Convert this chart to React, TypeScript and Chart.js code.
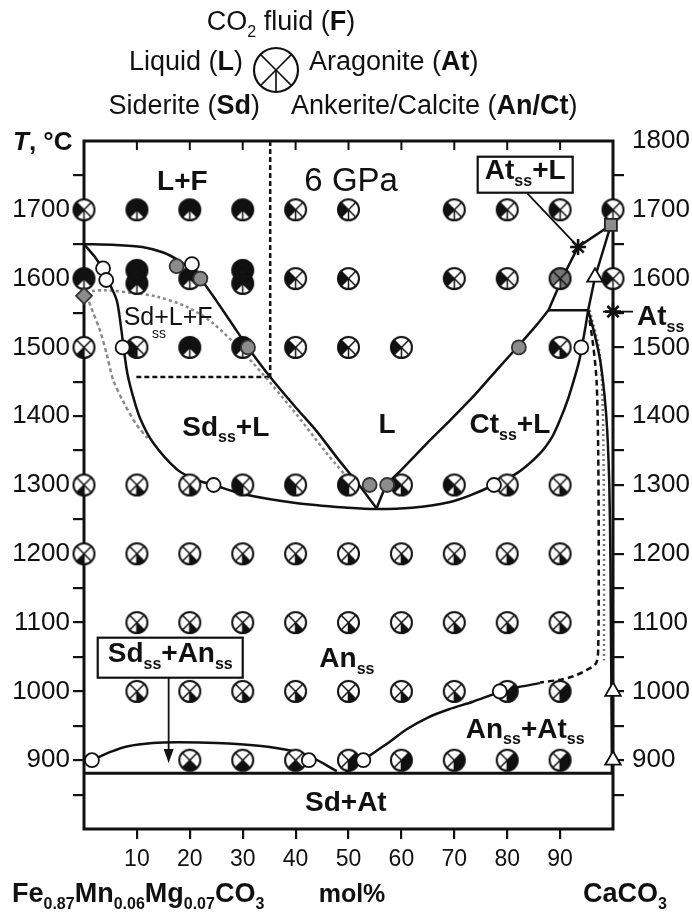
import { useEffect, useRef } from 'react';
import { Chart, registerables } from 'chart.js';
Chart.register(...registerables);

const FONT = '"Liberation Sans", Arial, Helvetica, sans-serif';
const INK = '#111';

type P = [number, number];

// ---------- axes ----------
const xTickValues = [0, 10, 20, 30, 40, 50, 60, 70, 80, 90, 100];
const xTickLabels = ['', '10', '20', '30', '40', '50', '60', '70', '80', '90', ''];
const tTickValues = [800, 850, 900, 950, 1000, 1050, 1100, 1150, 1200, 1250, 1300, 1350, 1400, 1450, 1500, 1550, 1600, 1650, 1700, 1750, 1800];
const tLabelsLeft = [900, 1000, 1100, 1200, 1300, 1400, 1500, 1600, 1700];
const tLabelsRight = [900, 1000, 1100, 1200, 1300, 1400, 1500, 1600, 1700, 1800];

// ---------- experiment points (x = mol% CaCO3, T in °C) ----------
const ptsLF: P[] = [[10, 1700], [20, 1700], [30, 1700], [0, 1600], [10, 1612], [10, 1593], [30, 1612], [30, 1593], [20, 1600], [20, 1500], [30, 1500]];
const ptsL: P[] = [[0, 1700], [40, 1700], [50, 1700], [70, 1700], [80, 1700], [90, 1700], [100, 1700], [40, 1600], [50, 1600], [70, 1600], [80, 1600], [100, 1600], [40, 1500], [50, 1500], [60, 1500]];
const ptsSdL: P[] = [[10, 1500], [30, 1300], [40, 1300], [50, 1300]];
const ptsCtL: P[] = [[90, 1500], [60, 1300], [70, 1300]];
const ptsCtLGray: P[] = [[90, 1600]];
const ptsSd: P[] = [[0, 1500], [0, 1300], [0, 1200]];
const ptsAn: P[] = [
  [10, 1300], [20, 1300], [80, 1300], [90, 1300],
  [10, 1200], [20, 1200], [30, 1200], [40, 1200], [50, 1200], [60, 1200], [70, 1200], [80, 1200], [90, 1200],
  [10, 1100], [20, 1100], [30, 1100], [40, 1100], [50, 1100], [60, 1100], [70, 1100], [80, 1100], [90, 1100],
  [10, 1000], [20, 1000], [30, 1000], [40, 1000], [50, 1000], [60, 1000], [70, 1000],
];
const ptsSdAn: P[] = [[20, 900], [30, 900], [40, 900]];
const ptsAnAt: P[] = [[80, 1000], [90, 1000], [50, 900], [60, 900], [70, 900], [80, 900], [90, 900]];
const ptsOpen: P[] = [[3.6, 1615], [4.2, 1598], [20.4, 1621], [7.3, 1500], [24.5, 1300], [77.5, 1300], [94, 1500], [78.6, 1000], [1.5, 900], [42.5, 900], [52.8, 900]];
const ptsGray: P[] = [[17.5, 1618], [22, 1600], [31, 1500], [82.2, 1500], [54, 1300], [57.3, 1300]];
const ptsDiamond: P[] = [[0, 1575]];
const ptsSquare: P[] = [[99.6, 1678]];
const ptsTriangle: P[] = [[96.6, 1602], [100, 1000], [100, 900]];
const ptsStar: P[] = [[93.4, 1646], [100, 1552]];

// ---------- phase boundaries ----------
const liquidusSd: P[] = [[0, 1650], [6, 1649], [11, 1646], [15, 1638], [18, 1626], [20.5, 1612], [22.5, 1595], [25, 1568], [28, 1534], [31, 1500], [35.2, 1457], [40, 1413], [44, 1378], [48, 1338], [52, 1300], [55.3, 1266]];
const solidus: P[] = [[0, 1650], [2, 1632], [3.7, 1612], [5, 1590], [6.2, 1568], [6.9, 1535], [7.4, 1505], [8.2, 1462], [9.3, 1428], [10.6, 1397], [13, 1362], [17.5, 1323], [21, 1308], [24.5, 1300], [30, 1287], [40, 1274], [50, 1267], [55.3, 1265], [62, 1267], [69, 1275], [73, 1285], [77.5, 1300], [82, 1318], [86.2, 1346], [88.5, 1370], [90, 1395], [91.5, 1425], [92.7, 1455], [93.6, 1480], [94.1, 1500], [94.8, 1530], [95.3, 1554]];
const liquidusCtLow: P[] = [[55.3, 1266], [57.2, 1300], [60, 1322], [65, 1362], [69.2, 1394], [74, 1432], [78, 1467], [82.2, 1503], [85.5, 1532], [87.8, 1554]];
const liquidusCtHigh: P[] = [[87.8, 1554], [90.5, 1602], [93.4, 1646], [99.6, 1678]];
const peritecticTie: P[] = [[87.8, 1554], [95.3, 1554]];
const atSolvusHigh: P[] = [[99.6, 1678], [96.6, 1602], [95.3, 1554]];
const atSolvusLow: P[] = [[95.3, 1554], [96.5, 1520], [97.6, 1480], [98.4, 1430], [98.9, 1380], [99.3, 1300], [99.5, 1200], [99.6, 1100], [99.7, 1000], [99.8, 881]];
const anAtDashed: P[] = [[95.3, 1554], [96.3, 1500], [96.9, 1450], [97.2, 1350], [97.3, 1200], [97.2, 1062], [96.8, 1041], [95, 1031], [92.5, 1022], [90, 1017], [86.2, 1013]];
const anAtDotted: P[] = [[95.6, 1554], [97.3, 1500], [97.9, 1450], [98.2, 1350], [98.3, 1200], [98.3, 1045]];
const anAtSolvus: P[] = [[49.5, 882], [52.8, 900], [55, 912], [58, 928], [61, 945], [65, 962], [69, 974], [73.5, 985], [78.6, 999], [82, 1006], [86.2, 1012]];
const sdAnSolvus: P[] = [[1.5, 900], [5, 912], [8.1, 920], [13, 925], [18, 926], [25, 925], [33, 921], [39, 914], [43.3, 903], [47.8, 884]];
const sdAtLine: P[] = [[0, 881], [100, 881]];
const grayLiquidus: P[] = [[1.5, 1582], [4, 1583], [9.4, 1579], [13.7, 1574], [19.4, 1559], [24.4, 1535], [31.4, 1482], [39.5, 1409], [46, 1345], [51, 1300]];
const graySolidus: P[] = [[0.5, 1576], [1.5, 1555], [3, 1525], [4.3, 1490], [5.5, 1453], [7.5, 1420], [9.9, 1388], [12, 1368]];
const fieldBoxV: P[] = [[35.2, 1800], [35.2, 1457]];
const fieldBoxH: P[] = [[9.9, 1457], [35.2, 1457]];
const pointerAtL: P[] = [[83.8, 1724], [93.4, 1646]];

// ---------- text ----------
const regionLabels = [
  { text: '*L+F*', x: 18.6, t: 1740, size: 28 },
  { text: '6 GPa', x: 50.5, t: 1740, size: 33 },
  { text: 'Sd+L+F', x: 15.9, t: 1543, size: 25 },
  { text: 'ss', x: 14.2, t: 1519, size: 14 },
  { text: '*Sd_{ss}+L*', x: 26.8, t: 1383, size: 28 },
  { text: '*L*', x: 57.3, t: 1387, size: 28 },
  { text: '*Ct_{ss}+L*', x: 80.5, t: 1387, size: 28 },
  { text: '*An_{ss}*', x: 49.7, t: 1046, size: 28 },
  { text: '*An_{ss}+At_{ss}*', x: 83.4, t: 944, size: 28 },
  { text: '*Sd+At*', x: 49.5, t: 838, size: 28 },
];
const boxLabels = [
  { text: '*Sd_{ss}+An_{ss}*', x: 16.3, t: 1049, w: 145, h: 40, size: 28 },
  { text: '*At_{ss}+L*', x: 83.4, t: 1751, w: 95, h: 36, size: 28 },
];
const sdAnArrow = { x: 16, from: 1029, to: 896 };

type Seg = { t: string; b: boolean; i: boolean; sub: boolean };

function parseRich(s: string): Seg[] {
  const segs: Seg[] = [];
  let bold = false, ital = false, buf = '', i = 0;
  const push = (sub = false) => { if (buf) segs.push({ t: buf, b: bold, i: ital, sub }); buf = ''; };
  while (i < s.length) {
    const c = s[i];
    if (c === '*') { push(); bold = !bold; i++; }
    else if (c === '^') { push(); ital = !ital; i++; }
    else if (c === '_' && s[i + 1] === '{') {
      push();
      const j = s.indexOf('}', i);
      buf = s.slice(i + 2, j);
      push(true);
      i = j + 1;
    } else { buf += c; i++; }
  }
  push();
  return segs;
}

function drawRich(ctx: CanvasRenderingContext2D, text: string, x: number, y: number, size: number, align: 'left' | 'center' | 'right') {
  const segs = parseRich(text);
  const subSize = Math.round(size * 0.58);
  const fontFor = (s: Seg) => `${s.i ? 'italic ' : ''}${s.b ? 'bold ' : ''}${s.sub ? subSize : size}px ${FONT}`;
  let w = 0;
  for (const s of segs) { ctx.font = fontFor(s); w += ctx.measureText(s.t).width; }
  let cx = align === 'left' ? x : align === 'right' ? x - w : x - w / 2;
  ctx.textAlign = 'left';
  ctx.textBaseline = 'middle';
  for (const s of segs) {
    ctx.font = fontFor(s);
    ctx.fillText(s.t, cx, s.sub ? y + size * 0.36 : y);
    cx += ctx.measureText(s.t).width;
  }
}

const SECTORS: Record<string, [number, number]> = {
  F: [-135, -45], A: [-45, 45], C: [45, 90], S: [90, 135], L: [135, 225],
};
const DIVIDERS = [-135, -45, 45, 135, 90];
const rad = (d: number) => (d * Math.PI) / 180;

function drawPie(ctx: CanvasRenderingContext2D, cx: number, cy: number, r: number, pattern: string, fill: string, lw: number) {
  ctx.save();
  ctx.beginPath();
  ctx.arc(cx, cy, r, 0, Math.PI * 2);
  ctx.fillStyle = '#fff';
  ctx.fill();
  for (const k of pattern) {
    const s = SECTORS[k];
    if (!s) continue;
    ctx.beginPath();
    ctx.moveTo(cx, cy);
    ctx.arc(cx, cy, r, rad(s[0]), rad(s[1]));
    ctx.closePath();
    ctx.fillStyle = fill;
    ctx.fill();
  }
  ctx.strokeStyle = INK;
  ctx.lineWidth = lw * 0.75;
  for (const d of DIVIDERS) {
    ctx.beginPath();
    ctx.moveTo(cx, cy);
    ctx.lineTo(cx + r * Math.cos(rad(d)), cy + r * Math.sin(rad(d)));
    ctx.stroke();
  }
  ctx.beginPath();
  ctx.arc(cx, cy, r, 0, Math.PI * 2);
  ctx.lineWidth = lw;
  ctx.stroke();
  ctx.restore();
}

function pieCanvas(pattern: string, fill = INK, r = 10.5) {
  const size = Math.ceil(2 * r + 4);
  const c = document.createElement('canvas');
  c.width = size; c.height = size;
  const ctx = c.getContext('2d')!;
  drawPie(ctx, size / 2, size / 2, r, pattern, fill, 2);
  return c;
}

const toXY = (pts: P[]) => pts.map(([x, y]) => ({ x, y }));

function lineDs(pts: P[], o: { color?: string; width?: number; dash?: number[]; tension?: number } = {}) {
  return {
    type: 'scatter' as const,
    data: toXY(pts),
    showLine: true,
    borderColor: o.color ?? INK,
    borderWidth: o.width ?? 2.5,
    borderDash: o.dash ?? [],
    tension: o.tension ?? 0,
    pointRadius: 0,
    pointHoverRadius: 0,
    fill: false,
    order: 10,
    xAxisID: 'x',
    yAxisID: 'y',
  };
}

function pieDs(pts: P[], pattern: string, fill = INK) {
  return {
    data: toXY(pts),
    pointStyle: pieCanvas(pattern, fill),
    pointRadius: 11,
    order: 5,
    clip: false,
    xAxisID: 'x',
    yAxisID: 'y',
  };
}

function symDs(pts: P[], style: string, r: number, bg: string, border = INK, bw = 1.8) {
  return {
    data: toXY(pts),
    pointStyle: style,
    pointRadius: r,
    backgroundColor: bg,
    borderColor: border,
    borderWidth: bw,
    order: 1,
    clip: false,
    xAxisID: 'x',
    yAxisID: 'y',
  };
}

const overlay = {
  id: 'overlay',
  beforeDatasetsDraw(chart: any) {
    const { ctx, chartArea: a, scales } = chart;
    ctx.save();
    ctx.strokeStyle = INK;
    ctx.lineWidth = 3;
    ctx.strokeRect(a.left, a.top, a.right - a.left, a.bottom - a.top);
    ctx.lineWidth = 2;
    for (const v of xTickValues) {
      if (v === 0 || v === 100) continue;
      const px = scales.x.getPixelForValue(v);
      ctx.beginPath();
      ctx.moveTo(px, a.top);
      ctx.lineTo(px, a.top + 9);
      ctx.stroke();
    }
    ctx.restore();
  },
  afterDraw(chart: any) {
    const { ctx, scales } = chart;
    const X = (v: number) => scales.x.getPixelForValue(v);
    const Y = (v: number) => scales.y.getPixelForValue(v);
    ctx.save();
    ctx.fillStyle = INK;
    ctx.strokeStyle = INK;

    for (const l of regionLabels) drawRich(ctx, l.text, X(l.x), Y(l.t), l.size, 'center');

    // pointer from At_ss+L box to star
    ctx.lineWidth = 1.8;
    ctx.beginPath();
    ctx.moveTo(X(pointerAtL[0][0]), Y(pointerAtL[0][1]));
    ctx.lineTo(X(pointerAtL[1][0]), Y(pointerAtL[1][1]));
    ctx.stroke();

    // arrow from Sd_ss+An_ss box
    const ax = X(sdAnArrow.x), ay0 = Y(sdAnArrow.from), ay1 = Y(sdAnArrow.to);
    ctx.beginPath();
    ctx.moveTo(ax, ay0);
    ctx.lineTo(ax, ay1 - 8);
    ctx.stroke();
    ctx.beginPath();
    ctx.moveTo(ax, ay1);
    ctx.lineTo(ax - 5, ay1 - 14);
    ctx.lineTo(ax + 5, ay1 - 14);
    ctx.closePath();
    ctx.fill();

    for (const b of boxLabels) {
      const cx = X(b.x), cy = Y(b.t);
      ctx.fillStyle = '#fff';
      ctx.fillRect(cx - b.w / 2, cy - b.h / 2, b.w, b.h);
      ctx.lineWidth = 2.2;
      ctx.strokeRect(cx - b.w / 2, cy - b.h / 2, b.w, b.h);
      ctx.fillStyle = INK;
      drawRich(ctx, b.text, cx, cy - 3, b.size, 'center');
    }

    // At_ss pointer on right axis
    const sy = Y(ptsStar[1][1]);
    ctx.lineWidth = 1.8;
    ctx.beginPath();
    ctx.moveTo(X(100) - 10, sy);
    ctx.lineTo(X(100) + 20, sy);
    ctx.stroke();
    drawRich(ctx, '*At_{ss}*', 637, sy + 6, 28, 'left');

    // axis titles
    drawRich(ctx, '*^T^, °C*', 13, 143, 26, 'left');
    drawRich(ctx, '*Fe_{0.87}Mn_{0.06}Mg_{0.07}CO_{3}*', 12, 895, 27, 'left');
    drawRich(ctx, '*mol%*', 352, 895, 25, 'center');
    drawRich(ctx, '*CaCO_{3}*', 583, 895, 27, 'left');

    // legend
    drawRich(ctx, 'CO_{2} fluid (*F*)', 281, 23, 27, 'center');
    drawRich(ctx, 'Liquid (*L*)', 243, 63, 27, 'right');
    drawRich(ctx, 'Aragonite (*At*)', 309, 63, 27, 'left');
    drawRich(ctx, 'Siderite (*Sd*)', 260, 107, 27, 'right');
    drawRich(ctx, 'Ankerite/Calcite (*An/Ct*)', 291, 107, 27, 'left');
    drawPie(ctx, 276, 70, 22, '', INK, 2.2);
    ctx.restore();
  },
};

export default function App() {
  const ref = useRef<HTMLCanvasElement>(null);
  useEffect(() => {
    document.body.style.margin = '0';
    const canvas = ref.current!;
    const tickColor = (hidden: number[]) => (c: any) => (c.tick && hidden.includes(c.tick.value) ? 'rgba(0,0,0,0)' : INK);
    const chart = new Chart(canvas, {
      type: 'scatter',
      data: {
        datasets: [
          symDs(ptsStar, 'star', 8, INK, INK, 2.6),
          symDs(ptsOpen, 'circle', 7, '#fff'),
          symDs(ptsGray, 'circle', 7, '#8c8c8c', '#333'),
          symDs(ptsDiamond, 'rectRot', 8, '#8c8c8c', '#333'),
          symDs(ptsSquare, 'rect', 8.5, '#8c8c8c', '#222'),
          symDs(ptsTriangle, 'triangle', 9, '#fff'),
          pieDs(ptsLF, 'FLA'),
          pieDs(ptsL, 'L'),
          pieDs(ptsSdL, 'LS'),
          pieDs(ptsCtL, 'LC'),
          pieDs(ptsCtLGray, 'FLAC', '#777'),
          pieDs(ptsSd, 'S'),
          pieDs(ptsAn, 'C'),
          pieDs(ptsSdAn, 'SC'),
          pieDs(ptsAnAt, 'AC'),
          lineDs(liquidusSd, { tension: 0.25 }),
          lineDs(solidus, { tension: 0.3 }),
          lineDs(liquidusCtLow, { tension: 0.2 }),
          lineDs(liquidusCtHigh),
          lineDs(peritecticTie),
          lineDs(atSolvusHigh),
          lineDs(atSolvusLow, { tension: 0.3 }),
          lineDs(anAtDashed, { dash: [6, 4], tension: 0.3 }),
          lineDs(anAtDotted, { dash: [2, 3], color: '#777', tension: 0.3 }),
          lineDs(anAtSolvus, { tension: 0.3 }),
          lineDs(sdAnSolvus, { tension: 0.35 }),
          lineDs(sdAtLine, { width: 3 }),
          lineDs(grayLiquidus, { dash: [3, 3], color: '#8a8a8a', tension: 0.3 }),
          lineDs(graySolidus, { dash: [4, 3], color: '#8a8a8a', tension: 0.3 }),
          lineDs(fieldBoxV, { dash: [5, 3] }),
          lineDs(fieldBoxH, { dash: [5, 3] }),
        ] as any,
      },
      options: {
        responsive: false,
        animation: false,
        devicePixelRatio: 1,
        events: [],
        layout: { padding: { top: 141, left: 0, right: 0, bottom: 0 } },
        plugins: { legend: { display: false }, tooltip: { enabled: false } },
        scales: {
          x: {
            type: 'linear', position: 'bottom', min: 0, max: 100,
            afterBuildTicks: (s: any) => { s.ticks = xTickValues.map((v) => ({ value: v })); },
            afterFit: (s: any) => { s.height = 89; },
            ticks: {
              autoSkip: false, maxRotation: 0, padding: 7, color: INK,
              font: { family: FONT, size: 23 },
              callback: (v: any) => xTickLabels[xTickValues.indexOf(Number(v))] ?? '',
            },
            grid: { drawOnChartArea: false, tickLength: 10, lineWidth: 2.2, color: tickColor([0, 100]) },
            border: { display: false },
          },
          y: {
            type: 'linear', position: 'left', min: 800, max: 1800,
            afterBuildTicks: (s: any) => { s.ticks = tTickValues.map((v) => ({ value: v })); },
            afterFit: (s: any) => { s.width = 84; },
            ticks: {
              autoSkip: false, padding: 3, color: INK,
              font: { family: FONT, size: 26 },
              callback: (v: any) => (tLabelsLeft.includes(Number(v)) ? String(v) : ''),
            },
            grid: { drawOnChartArea: false, tickLength: 11, lineWidth: 2.2, color: tickColor([800, 1800]) },
            border: { display: false },
          },
          y2: {
            type: 'linear', position: 'right', min: 800, max: 1800,
            afterBuildTicks: (s: any) => { s.ticks = tTickValues.map((v) => ({ value: v })); },
            afterFit: (s: any) => { s.width = 79; },
            ticks: {
              autoSkip: false, padding: 8, color: INK,
              font: { family: FONT, size: 26 },
              callback: (v: any) => (tLabelsRight.includes(Number(v)) ? String(v) : ''),
            },
            grid: { drawOnChartArea: false, tickLength: 11, lineWidth: 2.2, color: tickColor([800, 1800]) },
            border: { display: false },
          },
        },
      } as any,
      plugins: [overlay],
    });
    return () => chart.destroy();
  }, []);
  return (
    <div style={{ width: 692, height: 918, background: '#fff' }}>
      <canvas ref={ref} width={692} height={918} />
    </div>
  );
}
